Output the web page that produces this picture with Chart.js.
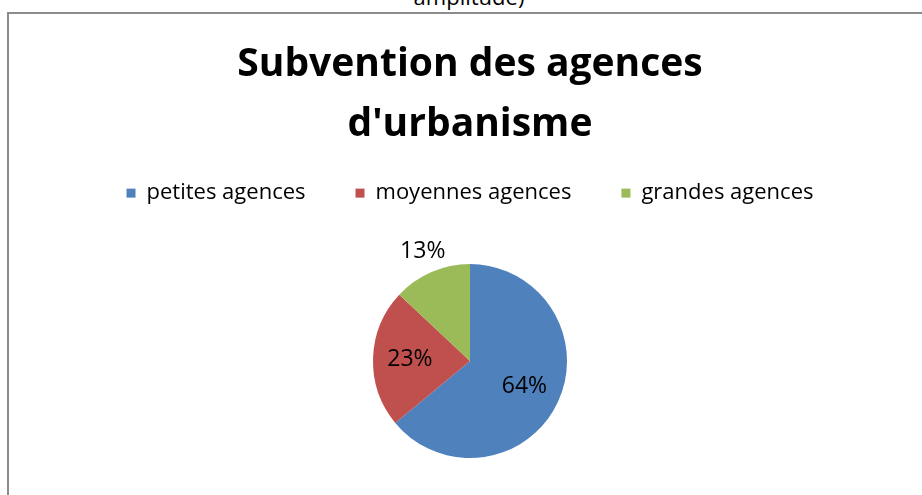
<!DOCTYPE html>
<html>
<head>
<meta charset="utf-8">
<script src="https://cdn.jsdelivr.net/npm/chart.js@4/dist/chart.umd.min.js"></script>
<style>
  html, body { margin: 0; padding: 0; background: #fff; overflow: hidden; }
  body { width: 922px; height: 495px; position: relative; }
  #cut { position: absolute; left: 0; width: 938px; top: -19px; text-align: center;
         font: 22px "Open Sans", sans-serif; color: #000; }
  #frame { position: absolute; left: 7px; top: 12px; width: 940px; height: 520px;
           border: 2px solid #8c8c8c; box-sizing: border-box; }
  #wrap { position: absolute; left: 0; top: 0; width: 922px; height: 530px; }
</style>
</head>
<body>
<div id="cut">amplitude)</div>
<div id="frame"></div>
<div id="wrap"><canvas id="pieChart"></canvas></div>
<script>
// données du graphique
const categories = ['petites agences', 'moyennes agences', 'grandes agences'];
const parts = [64, 23, 13];
const couleurs = ['#4F81BD', '#C0504D', '#9BBB59'];

const FONT = '"Open Sans", sans-serif';

// étiquettes de pourcentage (dedans pour les grosses parts, dehors pour la petite)
const pourcentages = {
  id: 'pourcentages',
  afterDatasetsDraw(chart) {
    const ctx = chart.ctx;
    const meta = chart.getDatasetMeta(0);
    ctx.save();
    ctx.font = '23px ' + FONT;
    ctx.fillStyle = '#000';
    ctx.textAlign = 'center';
    ctx.textBaseline = 'middle';
    meta.data.forEach((arc, i) => {
      const p = arc.getProps(['x', 'y', 'startAngle', 'endAngle', 'outerRadius'], true);
      const mid = (p.startAngle + p.endAngle) / 2;
      const r = i === 2 ? p.outerRadius + 22 : p.outerRadius * 0.62;
      ctx.fillText(parts[i] + '%', p.x + Math.cos(mid) * r, p.y + Math.sin(mid) * r);
    });
    ctx.restore();
  }
};

new Chart(document.getElementById('pieChart'), {
  type: 'pie',
  data: {
    labels: categories,
    datasets: [{
      data: parts,
      backgroundColor: couleurs,
      borderWidth: 0,
      radius: 97
    }]
  },
  options: {
    responsive: true,
    maintainAspectRatio: false,
    animation: false,
    layout: { padding: { top: 0, left: 18, right: 0, bottom: 22 } },
    plugins: {
      title: {
        display: true,
        text: ['Subvention des agences', "d'urbanisme"],
        color: '#000',
        font: { family: FONT, size: 39, weight: 'bold', lineHeight: 1.54 },
        padding: { top: 35, bottom: -23 }
      },
      legend: {
        display: true,
        position: 'top',
        labels: {
          boxWidth: 9,
          boxHeight: 9,
          padding: 50,
          color: '#000',
          font: { family: FONT, size: 22 }
        }
      },
      tooltip: { enabled: false }
    }
  },
  plugins: [pourcentages]
});
</script>
</body>
</html>
